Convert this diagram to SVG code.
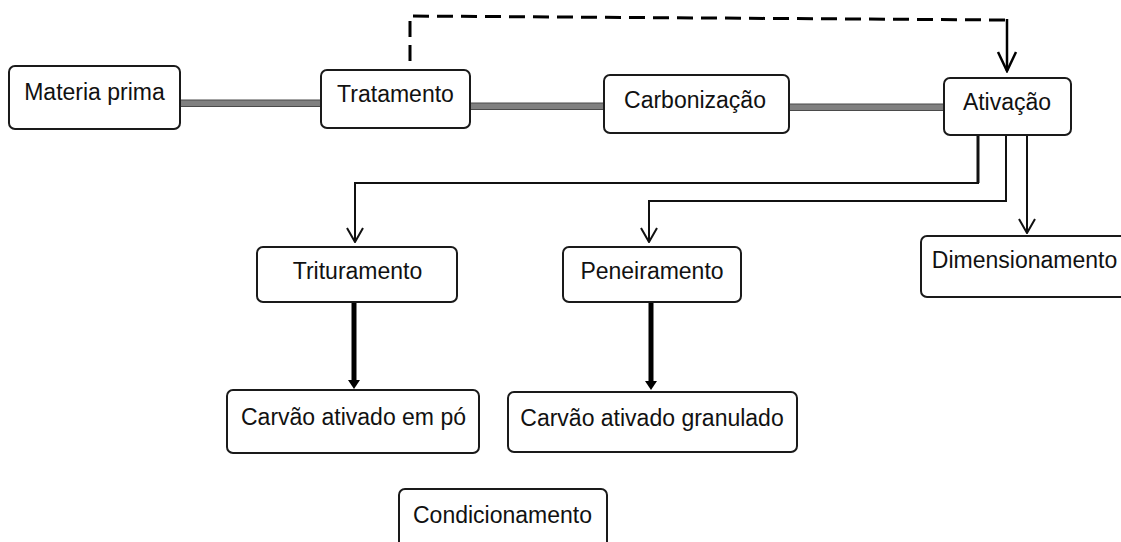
<svg xmlns="http://www.w3.org/2000/svg" width="1121" height="542" viewBox="0 0 1121 542">
<style>
.box{fill:#fff;stroke:#1a1a1a;stroke-width:2}
.lbl{font-family:"Liberation Sans",Arial,sans-serif;font-size:23px;fill:#111;text-anchor:middle}
.bar{fill:#808080;stroke:#4a4a4a;stroke-width:1}
.thin{fill:none;stroke:#111;stroke-width:2}
.thick{fill:none;stroke:#000;stroke-width:5}
.dash{fill:none;stroke:#000;stroke-width:3;stroke-dasharray:16 8}
</style>
<defs>
<marker id="open" markerWidth="20" markerHeight="16" refX="9" refY="15" orient="0" markerUnits="userSpaceOnUse" viewBox="0 0 18 16">
<path d="M1,1 L9,15 L17,1" fill="none" stroke="#111" stroke-width="2"/>
</marker>
<marker id="openBig" markerWidth="22" markerHeight="22" refX="10" refY="20" orient="0" markerUnits="userSpaceOnUse" viewBox="0 0 20 22">
<path d="M1,1 L10,20 L19,1" fill="none" stroke="#000" stroke-width="2.5"/>
</marker>
<marker id="solid" markerWidth="12" markerHeight="10" refX="6" refY="3" orient="0" markerUnits="userSpaceOnUse" viewBox="0 0 12 10">
<path d="M0,0 L12,0 L6,9 Z" fill="#000"/>
</marker>
</defs>

<g id="connectors">
<rect class="bar" x="180" y="100" width="141" height="6.5"/>
<rect class="bar" x="470" y="103" width="134" height="6.5"/>
<rect class="bar" x="789" y="104" width="155" height="6.5"/>
<polyline class="dash" points="410,61 410,16 1006,20"/>
<line x1="1007" y1="19" x2="1007" y2="71" stroke="#000" stroke-width="2.5" marker-end="url(#openBig)"/>
<polyline points="978,135 978,183 355,183 355,242" class="thin" marker-end="url(#open)"/>
<line x1="978" y1="135" x2="978" y2="183" stroke="#111" stroke-width="3"/>
<polyline points="1006,135 1006,201 649,201 649,242" class="thin" marker-end="url(#open)"/>
<line x1="1027" y1="135" x2="1027" y2="233" class="thin" marker-end="url(#open)"/>
<line x1="354" y1="302" x2="354" y2="383" class="thick" marker-end="url(#solid)"/>
<line x1="651" y1="302" x2="651" y2="384" class="thick" marker-end="url(#solid)"/>
</g>

<g id="materia-prima">
<rect class="box" x="9" y="66" width="171" height="63" rx="6"/>
<text class="lbl" x="94.5" y="100">Materia prima</text>
</g>
<g id="tratamento">
<rect class="box" x="321" y="70" width="149" height="58" rx="6"/>
<text class="lbl" x="395.5" y="102">Tratamento</text>
</g>
<g id="carbonizacao">
<rect class="box" x="604" y="75" width="185" height="58" rx="6"/>
<text class="lbl" x="695" y="108">Carbonização</text>
</g>
<g id="ativacao">
<rect class="box" x="944" y="78" width="127" height="57" rx="6"/>
<text class="lbl" x="1007" y="110">Ativação</text>
</g>
<g id="trituramento">
<rect class="box" x="257" y="247" width="200" height="55" rx="6"/>
<text class="lbl" x="357.5" y="279">Trituramento</text>
</g>
<g id="peneiramento">
<rect class="box" x="563" y="247" width="178" height="55" rx="6"/>
<text class="lbl" x="652" y="279">Peneiramento</text>
</g>
<g id="dimensionamento">
<rect class="box" x="921" y="236" width="207" height="61" rx="6"/>
<text class="lbl" x="1024.5" y="268">Dimensionamento</text>
</g>
<g id="carvao-po">
<rect class="box" x="227" y="390" width="252" height="63" rx="6"/>
<text class="lbl" x="353.5" y="425">Carvão ativado em pó</text>
</g>
<g id="carvao-granulado">
<rect class="box" x="508" y="392" width="289" height="60" rx="6"/>
<text class="lbl" x="652" y="426">Carvão ativado granulado</text>
</g>
<g id="condicionamento">
<rect class="box" x="399" y="489" width="208" height="70" rx="6"/>
<text class="lbl" x="502.5" y="523">Condicionamento</text>
</g>
</svg>
